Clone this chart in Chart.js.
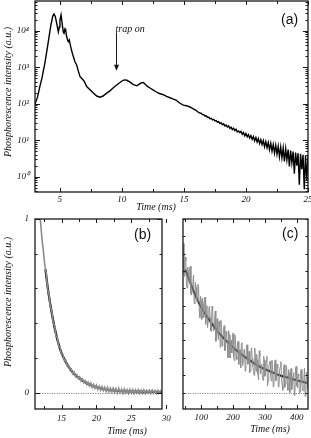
<!DOCTYPE html>
<html>
<head>
<meta charset="utf-8">
<script src="https://cdn.jsdelivr.net/npm/chart.js@4.4.0/dist/chart.umd.min.js"></script>
<style>
  body { margin: 0; background: #fff; width: 311px; height: 438px; position: relative; overflow: hidden; }
  canvas { position: absolute; }
  .txt { position: absolute; font: italic 10px "Liberation Serif", "Times New Roman", serif; color: #111; white-space: nowrap; line-height: 12px; height: 12px; text-align: center; }
  .rot { transform: rotate(-90deg); }
  .panel { position: absolute; font: 14px "Liberation Sans", Arial, sans-serif; color: #111; line-height: 14px; }
</style>
</head>
<body>
<canvas id="chartA" width="311" height="215" style="left:0;top:0"></canvas>
<canvas id="chartC" width="141" height="223" style="left:170px;top:215px"></canvas>
<canvas id="chartB" width="180" height="223" style="left:0;top:215px"></canvas>

<div class="txt rot" style="left:-72px;top:86px;width:160px">Phosphorescence intensity (a.u.)</div>
<div class="txt" style="left:126px;top:201px;width:60px">Time (ms)</div>
<div class="txt rot" style="left:-72px;top:296px;width:160px">Phosphorescence intensity (a.u.)</div>
<div class="txt" style="left:97px;top:425px;width:60px">Time (ms)</div>
<div class="txt" style="left:240px;top:423px;width:60px">Time (ms)</div>
<div class="panel" style="left:281px;top:12px">(a)</div>
<div class="panel" style="left:134px;top:227px">(b)</div>
<div class="panel" style="left:282px;top:226px">(c)</div>

<script>
// Panel (a): senal completa, escala log
const aTime = [3.0, 3.2, 3.4, 3.56, 3.81, 4.07, 4.27, 4.43, 4.53, 4.64, 4.75, 4.88, 4.96, 5.01, 5.1, 5.2, 5.28, 5.34, 5.42, 5.47,
  5.55, 5.62, 5.68, 5.76, 5.88, 5.98, 6.09, 6.22, 6.36, 6.47, 6.63, 6.79, 6.95, 7.17, 7.43, 7.7, 7.97, 8.24, 8.48, 8.78,
  9.04, 9.29, 9.58, 9.85, 10.09, 10.25, 10.41, 10.66, 10.9, 11.2, 11.38, 11.54, 11.73, 11.86, 12.03, 12.27, 12.5, 12.75, 13.02, 13.34,
  13.6, 13.88, 14.1, 14.36, 14.65, 14.95, 15.2, 15.49, 15.75, 15.97,
  16.1, 16.2, 16.3, 16.4, 16.5, 16.6, 16.7, 16.8, 16.9, 17.0, 17.1, 17.2, 17.3, 17.4, 17.5, 17.6, 17.7, 17.8, 17.9, 18.0,
  18.1, 18.2, 18.3, 18.4, 18.5, 18.6, 18.7, 18.8, 18.9, 19.0, 19.1, 19.2, 19.3, 19.4, 19.5, 19.6, 19.7, 19.8, 19.9, 20.0,
  20.1, 20.2, 20.3, 20.4, 20.5, 20.6, 20.7, 20.8, 20.9, 21.0, 21.1, 21.2, 21.3, 21.4, 21.5, 21.6, 21.7, 21.8, 21.9, 22.0,
  22.1, 22.2, 22.3, 22.4, 22.5, 22.6, 22.7, 22.8, 22.9, 23.0, 23.1, 23.2, 23.3, 23.4, 23.5, 23.6, 23.7, 23.8, 23.9, 24.0,
  24.1, 24.2, 24.3, 24.4, 24.5, 24.6, 24.7, 24.8, 24.9, 25.0];
const aIntensity = [98, 151, 302, 501, 1380, 4900, 13500, 25100, 28800, 24000, 15800, 9300, 12600, 19500, 26900, 14500, 9100, 8500, 11200, 10500,
  6900, 5600, 5000, 5600, 3600, 2630, 1950, 1410, 1150, 830, 550, 480, 420, 295, 240, 195, 162, 151, 162, 195,
  224, 269, 324, 380, 437, 447, 437, 389, 339, 309, 339, 372, 380, 347, 302, 269, 240, 212, 190, 176,
  158, 145, 136, 126, 104, 91, 88, 81, 72, 66,
  60, 57.5, 55.5, 54, 50.5, 50, 46, 46.5, 42.5, 42.5, 38.5, 39.5, 36, 37, 33.5, 34.5, 31, 32, 28.5, 30,
  26.5, 28, 24.5, 26, 23, 24.5, 21, 22.8, 19.6, 21.2, 18.3, 20, 16.8, 17.9, 16.2, 17.4, 14.5, 16.3, 13.2, 15.2,
  12.3, 14.2, 11.4, 13.3, 10.5, 12.5, 9.6, 11.8, 8.9, 11, 8.1, 10.3, 7.5, 9.7, 6.6, 9.1, 6.2, 8.6, 5.5, 8.2,
  5.0, 7.6, 4.4, 7.2, 4.1, 6.8, 3.5, 6.5, 3.3, 6.1, 2.6, 5.8, 2.9, 5.5, 1.9, 5.2, 2.4, 4.9, 1.2, 4.6,
  2.0, 4.4, 0.6, 4.2, 1.6, 4.0, 0.45, 3.8, 0.8, 3.6];
const aXMajor = [5, 10, 15, 20, 25];
const aXMinor = [7.5, 12.5, 17.5, 22.5];
const aYMajor = [1, 10, 100, 1000, 10000];
const aYLabels = ['10⁰', '10¹', '10²', '10³', '10⁴'];
const trapOn = { time: 9.55, from: 9000, to: 800, text: 'trap on' };

// Panel (b): decaimiento corto y ajuste
const bTime = [11.6, 11.8, 12.0, 12.2, 12.4, 12.6, 12.8, 13.0, 13.2, 13.4, 13.6, 13.8, 14.0, 14.2, 14.4, 14.6, 14.8, 15.0,
  15.2, 15.4, 15.6, 15.8, 16.0, 16.2, 16.4, 16.6, 16.8, 17.0, 17.2, 17.4, 17.6, 17.8, 18.0, 18.2, 18.4, 18.6, 18.8, 19.0,
  19.2, 19.4, 19.6, 19.8, 20.0, 20.2, 20.4, 20.6, 20.8, 21.0, 21.2, 21.4, 21.6, 21.8, 22.0, 22.2, 22.4, 22.6, 22.8, 23.0,
  23.2, 23.4, 23.6, 23.8, 24.0, 24.2, 24.4, 24.6, 24.8, 25.0, 25.2, 25.4, 25.6, 25.8, 26.0, 26.2, 26.4, 26.6, 26.8, 27.0,
  27.2, 27.4, 27.6, 27.8, 28.0, 28.2, 28.4, 28.6, 28.8, 29.0, 29.2, 29.4];
const bSignal = [1.19, 1.06, 0.98, 0.885, 0.815, 0.735, 0.69, 0.6, 0.565, 0.495, 0.47, 0.405, 0.385, 0.33, 0.315, 0.268, 0.26, 0.22,
  0.218, 0.185, 0.186, 0.153, 0.158, 0.13, 0.136, 0.108, 0.118, 0.092, 0.103, 0.08, 0.09, 0.066, 0.079, 0.056, 0.068, 0.046, 0.061, 0.038,
  0.054, 0.03, 0.047, 0.024, 0.042, 0.018, 0.037, 0.014, 0.034, 0.011, 0.03, 0.006, 0.029, 0.004, 0.026, 0.003, 0.025, 0.001, 0.022, -0.002,
  0.024, 0.0, 0.019, -0.004, 0.021, -0.001, 0.017, -0.005, 0.018, -0.002, 0.016, -0.006, 0.014, -0.003, 0.016, -0.005, 0.013, -0.004, 0.015, -0.006,
  0.012, -0.003, 0.014, -0.005, 0.013, -0.004, 0.011, -0.006, 0.012, -0.003, 0.01, -0.002];
const bFitTime = [12.7, 13.0, 13.2, 13.4, 13.6, 13.8, 14.0, 14.2, 14.4, 14.6, 14.8, 15.0, 15.2, 15.4, 15.6, 15.8, 16.0, 16.2, 16.4, 16.6,
  16.8, 17.0, 17.2, 17.4, 17.6, 17.8, 18.0, 18.2, 18.4, 18.6, 18.8, 19.0, 19.2, 19.4, 19.6, 19.8, 20.0, 20.4, 20.8, 21.2,
  21.6, 22.0, 22.5, 23.0, 24.0, 25.0, 26.0, 27.0, 28.0, 29.4];
const bFit = [0.71, 0.61, 0.555, 0.505, 0.46, 0.415, 0.375, 0.34, 0.305, 0.277, 0.25, 0.228, 0.21, 0.193, 0.177, 0.162, 0.149, 0.138, 0.127, 0.117,
  0.108, 0.1, 0.093, 0.087, 0.081, 0.075, 0.069, 0.064, 0.059, 0.055, 0.05, 0.046, 0.043, 0.039, 0.036, 0.033, 0.03, 0.026, 0.022, 0.019,
  0.016, 0.014, 0.012, 0.01, 0.008, 0.006, 0.005, 0.004, 0.004, 0.003];
const bXMajor = [15, 20, 25, 30];
const bXMinor = [12.5, 17.5, 22.5, 27.5];
const bYMajor = [0, 1];
const bYMinor = [0.2, 0.4, 0.6, 0.8];

// Panel (c): decaimiento largo y ajuste
const cTime = [44, 46, 48, 50, 52, 54, 56, 58, 60, 62, 64, 66, 68, 70, 72, 74, 76, 78, 80, 82,
  84, 86, 88, 90, 92, 94, 96, 98, 100, 102, 104, 106, 108, 110, 112, 114, 116, 118, 120, 122,
  124, 126, 128, 130, 132, 134, 136, 138, 140, 142, 144, 146, 148, 150, 152, 154, 156, 158, 160, 162,
  164, 166, 168, 170, 172, 174, 176, 178, 180, 182, 184, 186, 188, 190, 192, 194, 196, 198, 200, 202,
  204, 206, 208, 210, 212, 214, 216, 218, 220, 222, 224, 226, 228, 230, 232, 234, 236, 238, 240, 242,
  244, 246, 248, 250, 252, 254, 256, 258, 260, 262, 264, 266, 268, 270, 272, 274, 276, 278, 280, 282,
  284, 286, 288, 290, 292, 294, 296, 298, 300, 302, 304, 306, 308, 310, 312, 314, 316, 318, 320, 322,
  324, 326, 328, 330, 332, 334, 336, 338, 340, 342, 344, 346, 348, 350, 352, 354, 356, 358, 360, 362,
  364, 366, 368, 370, 372, 374, 376, 378, 380, 382, 384, 386, 388, 390, 392, 394, 396, 398, 400, 402,
  404, 406, 408, 410, 412, 414, 416, 418, 420, 422, 424, 426, 428, 430, 432, 434, 436];
const cSignal = [0.859, 0.689, 0.669, 0.78, 0.76, 0.611, 0.602, 0.723, 0.694, 0.635, 0.716, 0.728, 0.569, 0.561, 0.593, 0.635, 0.677, 0.519, 0.511, 0.634,
  0.606, 0.528, 0.521, 0.624, 0.596, 0.479, 0.432, 0.555, 0.529, 0.422, 0.545, 0.509, 0.432, 0.536, 0.55, 0.393, 0.417, 0.501, 0.375, 0.41,
  0.484, 0.498, 0.432, 0.357, 0.351, 0.496, 0.47, 0.355, 0.36, 0.405, 0.47, 0.295, 0.32, 0.425, 0.35, 0.305, 0.41, 0.376, 0.261, 0.417,
  0.372, 0.268, 0.303, 0.359, 0.385, 0.241, 0.246, 0.352, 0.328, 0.275, 0.201, 0.357, 0.333, 0.2, 0.296, 0.302, 0.228, 0.325, 0.341, 0.208,
  0.184, 0.331, 0.278, 0.205, 0.191, 0.288, 0.295, 0.162, 0.239, 0.246, 0.143, 0.28, 0.287, 0.154, 0.181, 0.249, 0.246, 0.123, 0.14, 0.268,
  0.275, 0.163, 0.17, 0.238, 0.115, 0.123, 0.23, 0.258, 0.195, 0.153, 0.121, 0.099, 0.256, 0.204, 0.122, 0.22, 0.187, 0.105, 0.073, 0.241,
  0.209, 0.107, 0.135, 0.164, 0.082, 0.07, 0.208, 0.186, 0.094, 0.103, 0.181, 0.209, 0.037, 0.066, 0.154, 0.162, 0.181, 0.099, 0.067, 0.186,
  0.134, 0.033, 0.041, 0.16, 0.188, 0.067, 0.076, 0.164, 0.143, 0.032, 0.04, 0.129, 0.148, 0.177, 0.075, 0.044, 0.013, 0.112, 0.16, 0.029,
  0.048, 0.157, 0.145, 0.054, 0.013, 0.132, 0.111, 0.0, 0.129, 0.138, 0.017, 0.056, 0.095, 0.114, -0.017, 0.002, 0.141, 0.15, 0.039, 0.028,
  0.107, 0.096, -0.005, 0.005, 0.124, 0.133, 0.052, 0.011, 0.01, 0.08, 0.139, -0.022, -0.003, 0.117, 0.086, 0.025, 0.014];
const cFitTime = [50, 75, 100, 125, 150, 175, 200, 225, 250, 275, 300, 325, 350, 375, 400, 435];
const cFit = [0.71, 0.59, 0.49, 0.42, 0.355, 0.305, 0.26, 0.222, 0.188, 0.158, 0.134, 0.115, 0.097, 0.084, 0.07, 0.054];
const cXMajor = [100, 200, 300, 400];
const cXMinor = [50, 150, 250, 350];
const cYTicks = [0, 0.1, 0.2, 0.3, 0.4, 0.5, 0.6, 0.7, 0.8, 0.9, 1];

const fuenteTicks = { family: '"Liberation Serif", "Times New Roman", serif', style: 'italic', size: 9 };

function puntos(xs, ys) {
  return xs.map((x, i) => ({ x: x, y: ys[i] }));
}

function marcas(mayores, menores) {
  return mayores.map(v => ({ v, mayor: true })).concat(menores.map(v => ({ v, mayor: false })));
}

// menores del eje log: 2..9 en cada decada
function menoresLog(min, max) {
  const out = [];
  for (let e = Math.floor(Math.log10(min)); e <= Math.ceil(Math.log10(max)); e++) {
    for (let m = 2; m <= 9; m++) {
      const v = m * Math.pow(10, e);
      if (v > min && v < max) out.push(v);
    }
  }
  return out;
}

// marco con ticks hacia adentro, linea de cero y flecha
const marcoTicks = {
  id: 'marcoTicks',
  afterDatasetsDraw(chart, args, opts) {
    const ctx = chart.ctx;
    const a = chart.chartArea;
    const sx = chart.scales.x, sy = chart.scales.y;
    ctx.save();

    if (opts.cero) {
      const py = Math.round(sy.getPixelForValue(0)) + 0.5;
      ctx.strokeStyle = '#555';
      ctx.lineWidth = 0.7;
      ctx.setLineDash([1.2, 1.2]);
      ctx.beginPath();
      ctx.moveTo(a.left, py);
      ctx.lineTo(a.right, py);
      ctx.stroke();
      ctx.setLineDash([]);
    }

    ctx.strokeStyle = '#1a1a1a';
    ctx.lineWidth = 1;
    opts.x.forEach(t => {
      const px = Math.round(sx.getPixelForValue(t.v)) + 0.5;
      const len = t.mayor ? 4 : 3;
      ctx.beginPath();
      ctx.moveTo(px, a.bottom); ctx.lineTo(px, a.bottom - len);
      ctx.moveTo(px, a.top); ctx.lineTo(px, a.top + len);
      ctx.stroke();
    });
    opts.y.forEach(t => {
      const py = Math.round(sy.getPixelForValue(t.v)) + 0.5;
      const len = t.mayor ? 5 : 2.5;
      ctx.beginPath();
      ctx.moveTo(a.left, py); ctx.lineTo(a.left + len, py);
      ctx.moveTo(a.right, py); ctx.lineTo(a.right - len, py);
      ctx.stroke();
    });

    ctx.lineWidth = 1.3;
    ctx.strokeRect(a.left, a.top, a.right - a.left, a.bottom - a.top);

    if (opts.flecha) {
      const f = opts.flecha;
      const px = Math.round(sx.getPixelForValue(f.time)) + 0.5;
      const y1 = sy.getPixelForValue(f.from);
      const y2 = sy.getPixelForValue(f.to);
      ctx.lineWidth = 1;
      ctx.beginPath();
      ctx.moveTo(px, y1);
      ctx.lineTo(px, y2 - 4);
      ctx.stroke();
      ctx.fillStyle = '#111';
      ctx.beginPath();
      ctx.moveTo(px - 2.5, y2 - 6);
      ctx.lineTo(px + 2.5, y2 - 6);
      ctx.lineTo(px, y2);
      ctx.closePath();
      ctx.fill();
      ctx.font = 'italic 10px "Liberation Serif", "Times New Roman", serif';
      ctx.textAlign = 'left';
      ctx.textBaseline = 'middle';
      ctx.fillText(f.text, px - 1, y1 - 3);
    }
    ctx.restore();
  }
};

function fijarTicks(valores) {
  return scale => { scale.ticks = valores.map(v => ({ value: v })); };
}

// tamano fijo del eje, sin relleno extra para las etiquetas de los extremos
function tamano(prop, valor) {
  return s => {
    s[prop] = valor;
    s.paddingTop = 0; s.paddingBottom = 0; s.paddingLeft = 0; s.paddingRight = 0;
  };
}

function ejeX(min, max, mayores, alto, pad) {
  return {
    type: 'linear', min, max,
    grid: { display: false, drawTicks: false }, border: { display: false },
    afterBuildTicks: fijarTicks(mayores),
    afterFit: tamano('height', alto),
    ticks: { font: fuenteTicks, color: '#111', padding: pad, autoSkip: false, maxRotation: 0 }
  };
}

const comunes = {
  responsive: false,
  animation: false,
  events: [],
  plugins: { legend: { display: false }, tooltip: { enabled: false } }
};

// (a)
new Chart(document.getElementById('chartA'), {
  type: 'line',
  data: {
    datasets: [{
      data: puntos(aTime, aIntensity),
      borderColor: '#000', borderWidth: 1.4, pointRadius: 0, clip: 0
    }]
  },
  options: {
    ...comunes,
    layout: { padding: { left: 0, right: 3, top: 1, bottom: 0 } },
    scales: {
      x: ejeX(3, 25, aXMajor, 23, 2),
      y: {
        type: 'logarithmic', min: 0.38, max: 65000,
        grid: { display: false, drawTicks: false }, border: { display: false },
        afterBuildTicks: fijarTicks(aYMajor),
        afterFit: tamano('width', 35),
        ticks: {
          font: fuenteTicks, color: '#111', padding: 6, autoSkip: false,
          callback: v => aYLabels[aYMajor.indexOf(v)]
        }
      }
    },
    plugins: {
      ...comunes.plugins,
      marcoTicks: {
        x: marcas(aXMajor, aXMinor),
        y: marcas(aYMajor, menoresLog(0.38, 65000)),
        flecha: trapOn
      }
    }
  },
  plugins: [marcoTicks]
});

// (b)
new Chart(document.getElementById('chartB'), {
  type: 'line',
  data: {
    datasets: [
      { data: puntos(bTime, bSignal), borderColor: '#8c8c8c', borderWidth: 1.6, pointRadius: 0, clip: 0 },
      { data: puntos(bFitTime, bFit), borderColor: '#000', borderWidth: 2.2, pointRadius: 0, clip: 0 }
    ]
  },
  options: {
    ...comunes,
    layout: { padding: { left: 0, right: 18, top: 4, bottom: 0 } },
    scales: {
      x: ejeX(11.2, 29.4, bXMajor, 29, 4),
      y: {
        type: 'linear', min: -0.095, max: 1.0,
        grid: { display: false, drawTicks: false }, border: { display: false },
        afterBuildTicks: fijarTicks(bYMajor),
        afterFit: tamano('width', 35),
        ticks: { font: fuenteTicks, color: '#111', padding: 6, autoSkip: false }
      }
    },
    plugins: {
      ...comunes.plugins,
      marcoTicks: { x: marcas(bXMajor, bXMinor), y: marcas(bYMajor, bYMinor), cero: true }
    }
  },
  plugins: [marcoTicks]
});

// (c)
new Chart(document.getElementById('chartC'), {
  type: 'line',
  data: {
    datasets: [
      { data: puntos(cTime, cSignal), borderColor: '#8e8e8e', borderWidth: 1, pointRadius: 0, clip: 0 },
      { data: puntos(cFitTime, cFit), borderColor: '#000', borderWidth: 2, pointRadius: 0, clip: 0, cubicInterpolationMode: 'monotone' }
    ]
  },
  options: {
    ...comunes,
    layout: { padding: { left: 13, right: 3, top: 4, bottom: 0 } },
    scales: {
      x: ejeX(43, 435, cXMajor, 29, 3),
      y: { type: 'linear', min: -0.095, max: 1.0, display: false }
    },
    plugins: {
      ...comunes.plugins,
      marcoTicks: { x: marcas(cXMajor, cXMinor), y: marcas([], cYTicks), cero: true }
    }
  },
  plugins: [marcoTicks]
});
</script>
</body>
</html>
